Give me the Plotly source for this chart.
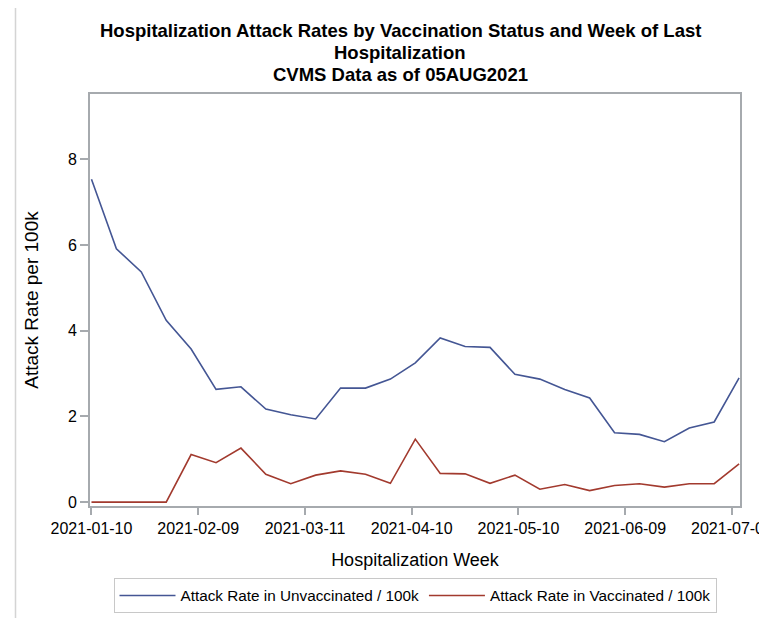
import plotly.graph_objects as go
import pandas as pd

# weekly hospitalization weeks
weeks = pd.date_range('2021-01-10', periods=27, freq='7D')

unvaccinated_rate = [7.53, 5.91, 5.37, 4.24, 3.57, 2.63, 2.69, 2.17, 2.04, 1.94,
                     2.66, 2.66, 2.87, 3.25, 3.83, 3.63, 3.61, 2.98, 2.87, 2.63,
                     2.43, 1.62, 1.58, 1.41, 1.73, 1.87, 2.90]
vaccinated_rate = [0.0, 0.0, 0.0, 0.0, 1.11, 0.92, 1.26, 0.65, 0.43, 0.63,
                   0.73, 0.65, 0.44, 1.47, 0.67, 0.66, 0.44, 0.63, 0.30, 0.41,
                   0.27, 0.39, 0.43, 0.35, 0.43, 0.43, 0.89]

y_ticks = [0, 2, 4, 6, 8]

title_lines = ['Hospitalization Attack Rates by Vaccination Status and Week of Last',
               'Hospitalization',
               'CVMS Data as of 05AUG2021']

FONT = 'Liberation Sans, Arial, sans-serif'
AXIS_GRAY = '#a6aaae'

# the page body adds an 8px offset, so the figure is sized to fit inside it
W, H = 759, 610
L, R, T, B = 82, 27, 86, 112

fig = go.Figure()

fig.add_trace(go.Scatter(
    x=weeks,
    y=unvaccinated_rate,
    mode='lines',
    name='Attack Rate in Unvaccinated / 100k',
    line=dict(color='#445694', width=1.6)
))

fig.add_trace(go.Scatter(
    x=weeks,
    y=vaccinated_rate,
    mode='lines',
    name='Attack Rate in Vaccinated / 100k',
    line=dict(color='#a23a2e', width=1.6)
))

# title lines as separate annotations to control line spacing
plot_w = W - L - R
plot_h = H - T - B
annotations = []
for i, line in enumerate(title_lines):
    center_y = 31 - 8 + i * 21.5  # pixel position in the figure
    annotations.append(dict(
        text='<b>' + line + '</b>',
        xref='paper', yref='paper',
        x=(392 - L) / plot_w,
        y=1 + (T - center_y) / plot_h,
        xanchor='center', yanchor='middle',
        showarrow=False,
        font=dict(size=18.5, family=FONT, color='black')
    ))

fig.update_layout(
    width=W,
    height=H,
    margin=dict(l=L, r=R, t=T, b=B, autoexpand=False),
    paper_bgcolor='white',
    plot_bgcolor='white',
    font=dict(family=FONT, color='black'),
    showlegend=True,
    annotations=annotations,
    legend=dict(
        orientation='h',
        x=0.5,
        xanchor='center',
        y=-72 / plot_h,
        yanchor='top',
        bordercolor='#c8c8c8',
        borderwidth=1,
        font=dict(size=15.3, family=FONT),
        itemwidth=56,
        tracegroupgap=0
    ),
    shapes=[dict(
        type='rect', xref='paper', yref='paper',
        x0=(15.5 - 90) / plot_w, x1=1.2,
        y0=-0.5, y1=1 + (94 - 4.5) / plot_h,
        line=dict(color='#d4d4d4', width=1.5),
        fillcolor='rgba(0,0,0,0)', layer='below'
    )]
)

fig.update_xaxes(
    title=dict(text='Hospitalization Week', font=dict(size=18, family=FONT), standoff=17),
    range=['2021-01-09 14:00', '2021-07-11 06:00'],
    tickmode='linear',
    tick0='2021-01-10',
    dtick=30 * 86400000,
    tickformat='%Y-%m-%d',
    tickfont=dict(size=16, family=FONT),
    ticks='outside',
    ticklen=7,
    tickwidth=1.5,
    tickcolor=AXIS_GRAY,
    showline=True,
    linecolor=AXIS_GRAY,
    linewidth=2,
    mirror=True,
    showgrid=False,
    zeroline=False,
    ticklabeloverflow='allow',
    automargin=False
)

fig.update_yaxes(
    title=dict(text='Attack Rate per 100k', font=dict(size=19, family=FONT), standoff=24),
    range=[-0.09, 9.52],
    tickvals=y_ticks,
    tickfont=dict(size=16, family=FONT),
    ticks='outside',
    ticklen=8,
    tickwidth=1.5,
    tickcolor=AXIS_GRAY,
    showline=True,
    linecolor=AXIS_GRAY,
    linewidth=2,
    mirror=True,
    showgrid=False,
    zeroline=False,
    automargin=False
)

fig.write_html("out.html")
